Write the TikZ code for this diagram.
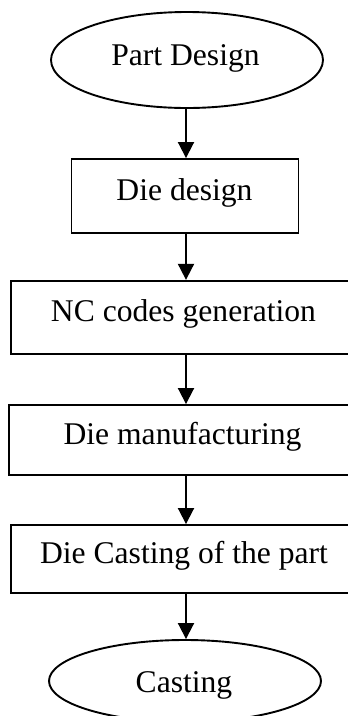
\documentclass[tikz,border=0pt]{standalone}
\usepackage{fontspec}
\setmainfont{Liberation Serif}
\usetikzlibrary{arrows.meta,shapes.geometric}
\begin{document}
\begin{tikzpicture}[x=1pt,y=-1pt,
  shapeline/.style={draw=black,line width=1.9pt,inner sep=0pt},
  stepbox/.style={shapeline,rectangle},
  terminal/.style={shapeline,ellipse},
  lbl/.style={anchor=base,inner sep=0pt,font=\fontsize{31.6}{36}\selectfont},
  flow/.style={line width=1.9pt,-{Triangle[length=16pt,width=16pt]}}]
\useasboundingbox (0,0) rectangle (348,716);
\clip (0,0) rectangle (348,716);
\fill[white] (0,0) rectangle (348,716);

% flow shapes
\node[terminal,minimum width=272pt,minimum height=96pt] (e1) at (187,60) {};
\node[stepbox,minimum width=227pt,minimum height=74pt] (b1) at (185,196) {};
\node[stepbox,minimum width=350pt,minimum height=73pt] (b2) at (186,317.3) {};
\node[stepbox,minimum width=354pt,minimum height=70pt] (b3) at (186,440) {};
\node[stepbox,minimum width=350pt,minimum height=68pt] (b4) at (186,559) {};
\node[terminal,minimum width=272pt,minimum height=82pt] (e2) at (185,681) {};

% labels
\node[lbl] (t1) at (185.5,65) {Part Design};
\node[lbl] (t2) at (184.5,200) {Die design};
\node[lbl] (t3) at (183.5,321) {NC codes generation};
\node[lbl] (t4) at (182.5,444) {Die manufacturing};
\node[lbl] (t5) at (184,563) {Die Casting of the part};
\node[lbl] (t6) at (184,692) {Casting};

% connectors
\coordinate (ax) at (186,0);
\draw[flow] (ax |- e1.south) -- (ax |- b1.north);
\draw[flow] (ax |- b1.south) -- (ax |- b2.north);
\draw[flow] (ax |- b2.south) -- (ax |- b3.north);
\draw[flow] (ax |- b3.south) -- (ax |- b4.north);
\draw[flow] (ax |- b4.south) -- (ax |- e2.north);
\end{tikzpicture}
\end{document}
